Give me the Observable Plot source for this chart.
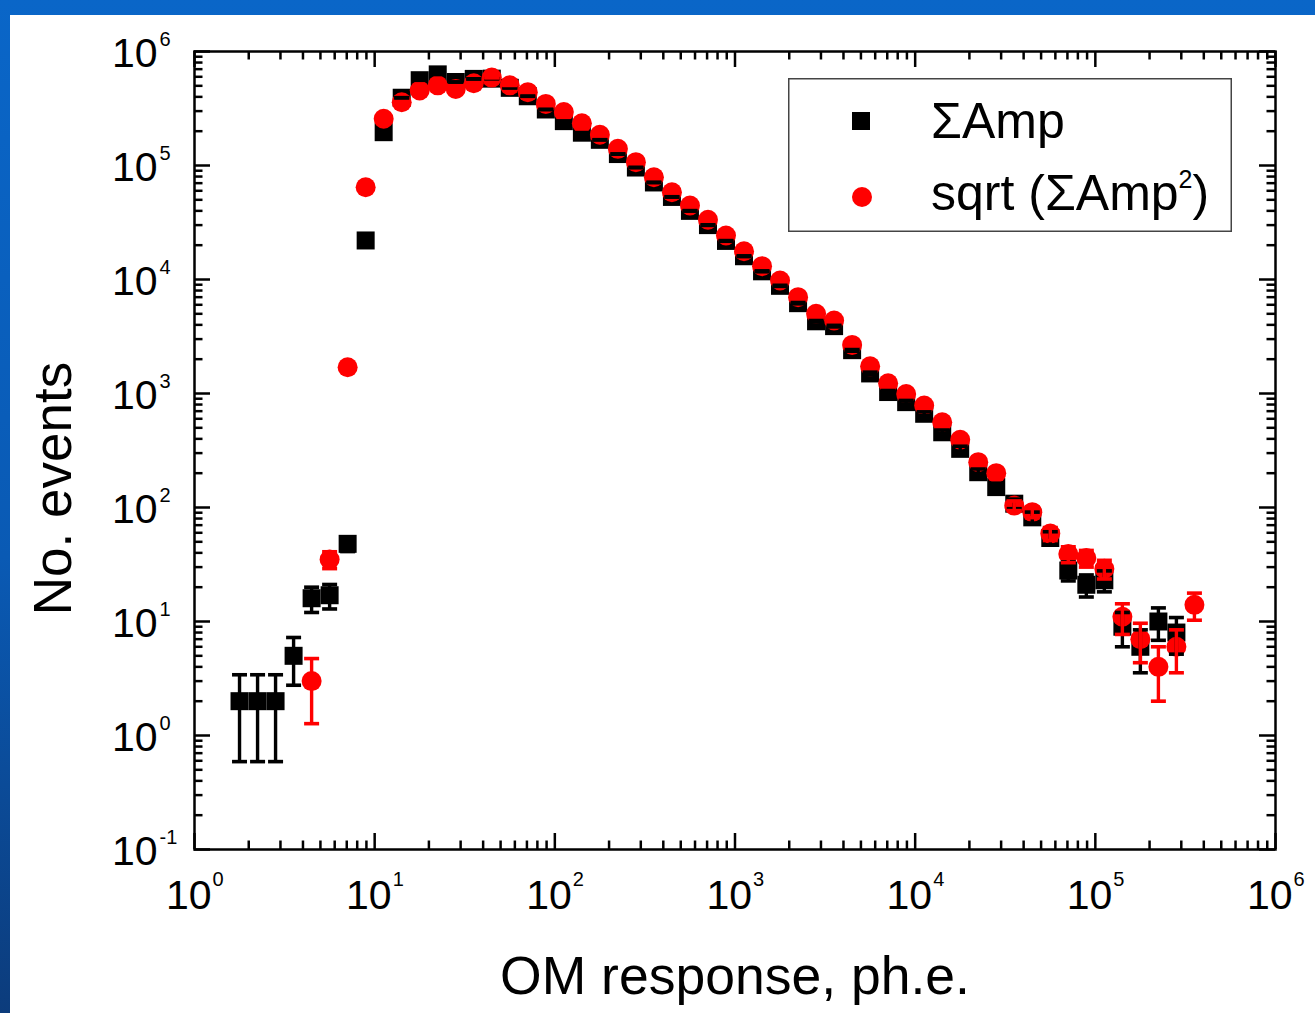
<!DOCTYPE html>
<html><head><meta charset="utf-8">
<script src="https://cdn.jsdelivr.net/npm/d3@7"></script>
<script src="https://cdn.jsdelivr.net/npm/@observablehq/plot@0.6"></script>
<style>
html,body{margin:0;padding:0;}
body{width:1315px;height:1013px;position:relative;overflow:hidden;
  background:linear-gradient(180deg,#0a66c8 0%,#0a5ab4 55%,#0c3c7c 100%);
  font-family:"Liberation Sans",Arial,sans-serif;}
#panel{position:absolute;left:10px;top:15px;width:1305px;height:998px;background:#fff;}
#chart svg{display:block;}
#legend{position:absolute;left:788px;top:78px;}
</style></head><body>
<div id="panel"><div id="chart"></div></div>
<svg id="legend" width="444" height="154" xmlns="http://www.w3.org/2000/svg" font-family="Liberation Sans, Arial, sans-serif">
  <rect x="0.75" y="0.75" width="442.5" height="152.5" fill="#fff" stroke="#444" stroke-width="1.5"/>
  <rect x="64" y="34" width="18" height="18" fill="#000"/>
  <circle cx="74" cy="119" r="10" fill="#ff0000"/>
  <text x="143" y="60" font-size="50" fill="#000">ΣAmp</text>
  <text x="143" y="132" font-size="50" fill="#000">sqrt (ΣAmp<tspan font-size="25" dy="-22">2</tspan><tspan dy="22">)</tspan></text>
</svg>
<script>
// ---- data ----
const binCenters = [1.778,2.239,2.818,3.548,4.467,5.623,7.079,8.913,11.22,14.13,17.78,22.39,28.18,35.48,44.67,56.23,70.79,89.13,112.2,141.3,177.8,223.9,281.8,354.8,446.7,562.3,707.9,891.3,1122,1413,1778,2239,2818,3548,4467,5623,7079,8913,11220,14130,17780,22390,28180,35480,44670,56230,70790,89130,112200,141300,177800,223900,281800,354800];

// ΣAmp (black squares), bins 0..52
const sumAmpX = binCenters.slice(0, 53);
const sumAmpY = [2,2,2,5,16,17,48,22000,196000,393000,560000,630000,540000,575000,578000,480000,405000,310000,245000,194000,
  168000,126000,96000,71000,53000,40000,30000,21800,16000,11800,8800,6200,4300,3900,2400,1500,1030,
  840,664,457,327,204,151,108,82,54,28,21,23,9,6,10,8];
const sumAmpErr = [1.41,1.41,1.41,2.24,4,4.12,6.93,148,443,627,748,794,735,758,760,693,636,557,495,440,
  410,355,310,266,230,200,173,148,126,109,94,79,66,62,49,39,32,
  29,26,21,18,14,12.3,10.4,9.1,7.3,5.3,4.6,4.8,3,2.45,3.16,2.83];

// sqrt(ΣAmp²) (red circles), bins 4..53
const sqrtAmpX = binCenters.slice(4);
const sqrtAmpY = [3,35,1700,64500,257000,359000,455000,505000,470000,527000,590000,505000,440000,347000,294000,235000,
  186000,140000,107000,78800,58300,44600,33400,24300,17700,13100,9800,7000,5000,4370,2670,1730,1230,
  990,785,560,393,250,200,104,91,59,39,36,29,11,7,4,6,14];
const sqrtAmpErr = [1.73,5.9,41,254,507,599,675,711,686,726,768,711,663,589,542,485,
  431,374,327,281,241,211,183,156,133,114,99,84,71,66,52,42,35,
  31.5,28,23.7,19.8,15.8,14.1,10.2,9.5,7.7,6.2,6,5.4,3.3,2.65,2,2.45,3.74];

// ---- axes ----
const xMajor = [1,10,100,1e3,1e4,1e5,1e6];
const xExp = ["0","1","2","3","4","5","6"];
const yMajor = [0.1,1,10,100,1e3,1e4,1e5,1e6];
const yExp = ["-1","0","1","2","3","4","5","6"];
const xTitle = "OM response, ph.e.";
const yTitle = "No. events";

const minorOf = (majors) => majors.slice(0, -1).flatMap(m => [2,3,4,5,6,7,8,9].map(k => k * m));
const xMinor = minorOf(xMajor);
const yMinor = minorOf(yMajor);

const sumAmp = sumAmpX.map((x, i) => ({x, y: sumAmpY[i], e: sumAmpErr[i]}));
const sqrtAmp = sqrtAmpX.map((x, i) => ({x, y: sqrtAmpY[i], e: sqrtAmpErr[i]}));
const xTicks = xMajor.map((v, i) => ({v, exp: xExp[i]}));
const yTicks = yMajor.map((v, i) => ({v, exp: yExp[i]}));

const W = 1305, H = 998, mL = 184, mT = 36, mR = 40, mB = 164;
const pw = W - mL - mR, ph = H - mT - mB;
const majLen = 16, minLen = 8.5, tw = 2.5;

const cap = {draw(ctx) { ctx.moveTo(-7.5, 0); ctx.lineTo(7.5, 0); }};

const errMarks = (data, color) => [
  Plot.ruleX(data, {x: "x", y1: d => d.y - d.e, y2: d => d.y + d.e, stroke: color, strokeWidth: 3.4}),
  Plot.dot(data, {x: "x", y: d => d.y + d.e, symbol: cap, fill: "none", stroke: color, strokeWidth: 3.6}),
  Plot.dot(data, {x: "x", y: d => d.y - d.e, symbol: cap, fill: "none", stroke: color, strokeWidth: 3.6})
];

const chart = Plot.plot({
  width: W, height: H,
  marginLeft: mL, marginTop: mT, marginRight: mR, marginBottom: mB,
  style: {fontFamily: "Liberation Sans, Arial, sans-serif", background: "transparent", color: "black"},
  x: {type: "log", domain: [1, 1e6], axis: null},
  y: {type: "log", domain: [0.1, 1e6], axis: null},
  marks: [
    // data symbols
    Plot.dot(sumAmp, {x: "x", y: "y", symbol: "square", r: 10.16, fill: "black"}),
    Plot.dot(sqrtAmp, {x: "x", y: "y", symbol: "circle", r: 10, fill: "#ff0000"}),
    ...errMarks(sumAmp, "black"),
    ...errMarks(sqrtAmp, "#ff0000"),
    // inward ticks on all four sides
    Plot.tickX(xMajor, {x: d => d, insetTop: ph - majLen, stroke: "black", strokeWidth: tw}),
    Plot.tickX(xMinor, {x: d => d, insetTop: ph - minLen, stroke: "black", strokeWidth: tw}),
    Plot.tickX(xMajor, {x: d => d, insetBottom: ph - majLen, stroke: "black", strokeWidth: tw}),
    Plot.tickX(xMinor, {x: d => d, insetBottom: ph - minLen, stroke: "black", strokeWidth: tw}),
    Plot.tickY(yMajor, {y: d => d, insetRight: pw - majLen, stroke: "black", strokeWidth: tw}),
    Plot.tickY(yMinor, {y: d => d, insetRight: pw - minLen, stroke: "black", strokeWidth: tw}),
    Plot.tickY(yMajor, {y: d => d, insetLeft: pw - majLen, stroke: "black", strokeWidth: tw}),
    Plot.tickY(yMinor, {y: d => d, insetLeft: pw - minLen, stroke: "black", strokeWidth: tw}),
    Plot.frame({stroke: "black", strokeWidth: 2.5}),
    // tick labels 10^n
    Plot.text(xTicks, {x: "v", text: () => "10", frameAnchor: "bottom", textAnchor: "end", lineAnchor: "bottom", dx: 17, dy: 59, fontSize: 41, fill: "black"}),
    Plot.text(xTicks, {x: "v", text: "exp", frameAnchor: "bottom", textAnchor: "start", lineAnchor: "bottom", dx: 18, dy: 36, fontSize: 20, fill: "black"}),
    Plot.text(yTicks, {y: "v", text: () => "10", frameAnchor: "left", textAnchor: "end", lineAnchor: "bottom", dx: -37, dy: 15, fontSize: 41, fill: "black"}),
    Plot.text(yTicks, {y: "v", text: "exp", frameAnchor: "left", textAnchor: "start", lineAnchor: "bottom", dx: -35, dy: -6, fontSize: 20, fill: "black"}),
    // axis titles
    Plot.text([xTitle], {text: d => d, frameAnchor: "bottom", lineAnchor: "bottom", dy: 144, fontSize: 53.5, fill: "black"}),
    Plot.text([yTitle], {text: d => d, frameAnchor: "left", rotate: -90, textAnchor: "middle", lineAnchor: "bottom", dx: -124, dy: 38, fontSize: 53, fill: "black"})
  ]
});
document.getElementById("chart").append(chart);
</script>
</body></html>
